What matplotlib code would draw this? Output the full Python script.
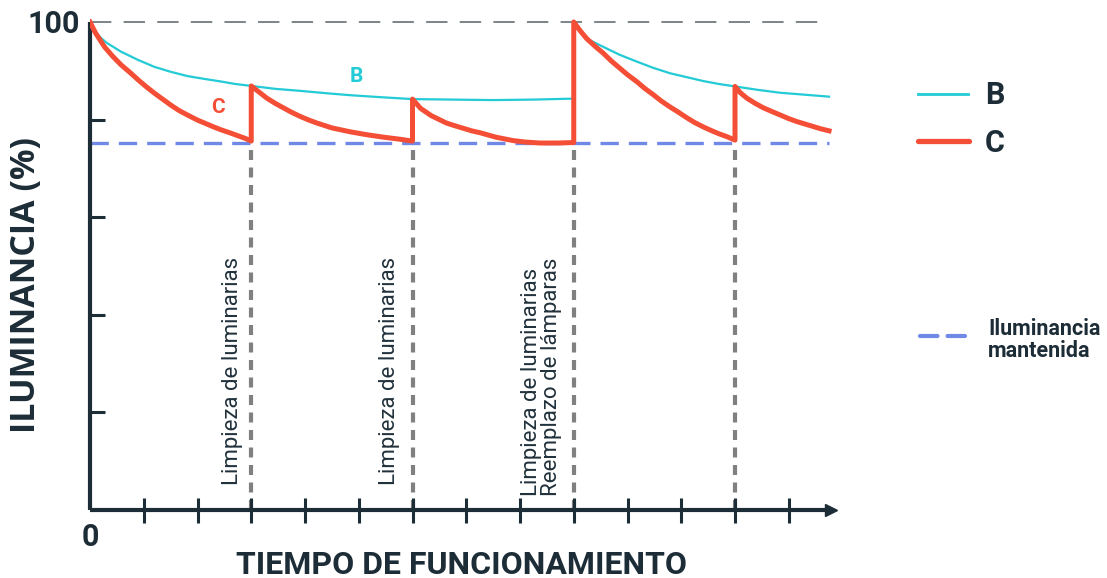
import matplotlib
matplotlib.use("Agg")
import matplotlib.pyplot as plt

plt.rcParams['font.family'] = ['Roboto', 'DejaVu Sans']

# curva B (dos ciclos, reemplazo de lamparas en t=9)
b1_x = [0, 0.15, 0.3, 0.58, 0.9, 1.2, 1.5, 1.82, 2.15, 2.44, 2.7, 3.0, 3.45, 3.9,
        4.4, 4.84, 5.4, 6.0, 6.75, 7.5, 8.25, 9.0]
b1_y = [100, 97.3, 95.8, 93.9, 92.2, 90.8, 89.8, 88.9, 88.3, 87.8, 87.3, 86.9, 86.3, 85.9,
        85.4, 85.0, 84.6, 84.2, 84.1, 84.0, 84.1, 84.3]
b2_x = [9.0, 9.24, 9.55, 9.85, 10.17, 10.48, 10.79, 11.1, 11.41, 11.7, 12.0, 12.42,
        12.84, 13.3, 13.75]
b2_y = [100, 96.6, 94.9, 93.3, 91.9, 90.6, 89.5, 88.7, 87.9, 87.3, 86.8, 86.1,
        85.5, 85.1, 84.7]

# curva C (con limpiezas)
c_x = [0, 0.1, 0.27, 0.42, 0.58, 0.75, 0.9, 1.05, 1.2, 1.35, 1.5, 1.65, 1.82, 2.0, 2.15,
       2.3, 2.44, 2.6, 2.75, 2.9, 3.0,
       3.0, 3.15, 3.29, 3.45, 3.6, 3.75, 3.9, 4.05, 4.22, 4.5, 4.84, 5.15, 5.46, 5.75, 6.0,
       6.0, 6.15, 6.35, 6.5, 6.63, 6.8, 6.95, 7.1, 7.26, 7.55, 7.87, 8.1, 8.37, 8.7, 9.0,
       9.0, 9.12, 9.24, 9.4, 9.55, 9.7, 9.85, 10.0, 10.17, 10.32, 10.48, 10.63, 10.79,
       10.95, 11.1, 11.25, 11.41, 11.55, 11.7, 11.85, 12.0,
       12.0, 12.1, 12.22, 12.38, 12.53, 12.7, 12.85, 13.0, 13.15, 13.3, 13.45, 13.6, 13.75]
c_y = [100, 97.8, 94.9, 93.0, 91.2, 89.6, 88.1, 86.7, 85.4, 84.2, 83.0, 81.9, 80.9, 79.9,
       79.2, 78.5, 77.9, 77.3, 76.7, 76.1, 75.6,
       86.9, 85.6, 84.4, 83.3, 82.4, 81.5, 80.7, 80.0, 79.3, 78.3, 77.5, 76.9, 76.4, 76.0, 75.6,
       84.2, 82.3, 80.8, 80.0, 79.3, 78.7, 78.2, 77.7, 77.3, 76.4, 75.7, 75.4, 75.2, 75.2, 75.3,
       100, 98.2, 96.6, 95.0, 93.6, 92.0, 90.6, 89.2, 87.8, 86.4, 85.1, 83.8, 82.6,
       81.5, 80.4, 79.4, 78.5, 77.8, 77.1, 76.5, 75.8,
       86.8, 85.5, 84.4, 83.3, 82.4, 81.6, 80.9, 80.2, 79.6, 79.1, 78.6, 78.1, 77.7]

mantenida = 75.2
t_limpieza = [3, 6, 9, 12]
etiquetas = ["Limpieza de luminarias", "Limpieza de luminarias",
             "Limpieza de luminarias\nReemplazo de lámparas"]
etiq_x = [2.66, 5.57, 8.4]
etiq_y = [5.1, 5.1, 2.8]

dark = "#1d2d37"
cyan = "#22cbd5"
red = "#f54e36"
blue = "#7088e6"
grey = "#808080"

W, H = 1107, 578
fig = plt.figure(figsize=(W / 100, H / 100), dpi=100)
ax = fig.add_axes([90 / W, 68 / H, 760 / W, 495 / H])
ax.set_xlim(0, 760 / 53.75)
ax.set_ylim(0, 495 / 4.88)

ax.plot([0, 13.75], [100, 100], color="#5a6368", lw=1.1,
        linestyle=(0, (14, 8)), zorder=1)
ax.plot([0, 13.75], [mantenida, mantenida], color=blue, lw=2.4,
        linestyle=(0, (5.5, 3)), zorder=2)
for t in t_limpieza:
    ax.plot([t, t], [0, 74], color=grey, lw=3, linestyle=(0, (2.4, 1.8)), zorder=1)

ax.plot(b1_x, b1_y, color=cyan, lw=1.6, zorder=3, solid_joinstyle="round")
ax.plot(b2_x, b2_y, color=cyan, lw=1.6, zorder=3, solid_joinstyle="round")
ax.plot(c_x, c_y, color=red, lw=3.6, zorder=4, solid_joinstyle="round")

ax.text(4.95, 88.8, "B", color=cyan, fontsize=15, fontweight="bold",
        ha="center", va="center")
ax.text(2.38, 82.4, "C", color=red, fontsize=15, fontweight="bold",
        ha="center", va="center")

for lx, ly, txt in zip(etiq_x, etiq_y, etiquetas):
    ax.text(lx, ly, txt, rotation=90, ha="center", va="bottom", fontsize=16,
            color="#22323c", multialignment="left", linespacing=1.0)

# ejes
for s in ["top", "right"]:
    ax.spines[s].set_visible(False)
ax.spines["left"].set_bounds(0, 100)
ax.spines["bottom"].set_bounds(0, 13.7)
for s in ["left", "bottom"]:
    ax.spines[s].set_color(dark)
    ax.spines[s].set_linewidth(3)
    ax.spines[s].set_capstyle("butt")
ax.plot(13.78, 0, marker=">", ms=9, color=dark, clip_on=False, zorder=5)

ax.set_yticks([20, 40, 60, 80])
ax.set_xticks(range(1, 14))
ax.tick_params(axis="y", direction="in", length=11, width=2.2, color=dark, labelleft=False)
ax.tick_params(axis="x", direction="inout", length=18, width=2.2, color=dark, labelbottom=False)

fig.text(80 / W, 1 - 24 / H, "100", ha="right", va="center", fontsize=22,
         fontweight="bold", color=dark)
fig.text(90 / W, 1 - 537 / H, "0", ha="center", va="center", fontsize=22,
         fontweight="bold", color=dark)
fig.text(462 / W, 1 - 565 / H, "TIEMPO DE FUNCIONAMIENTO", ha="center", va="center",
         fontsize=23, fontweight="bold", color=dark)
fig.text(26 / W, 1 - 285 / H, "ILUMINANCIA (%)", ha="center", va="center",
         rotation=90, fontsize=24.5, fontweight="bold", color=dark,
         family=["Open Sans", "DejaVu Sans"])

# leyenda
lg = fig.add_axes([0, 0, 1, 1])
lg.set_xlim(0, W)
lg.set_ylim(H, 0)
lg.axis("off")
lg.plot([918, 968], [94, 94], color=cyan, lw=2)
lg.plot([918, 969], [141, 141], color=red, lw=3.8, solid_capstyle="round")
lg.plot([920, 968], [336, 336], color=blue, lw=3, linestyle=(0, (4.2, 2.4)),
        dash_capstyle="round")
lg.text(985, 95, "B", fontsize=22, fontweight="bold", color=dark, va="center")
lg.text(985, 143, "C", fontsize=22, fontweight="bold", color=dark, va="center")
lg.text(988, 340, "Iluminancia\nmantenida", fontsize=15.5, fontweight="bold",
        color=dark, va="center", linespacing=1.0)

fig.savefig("out.png", dpi=100)
